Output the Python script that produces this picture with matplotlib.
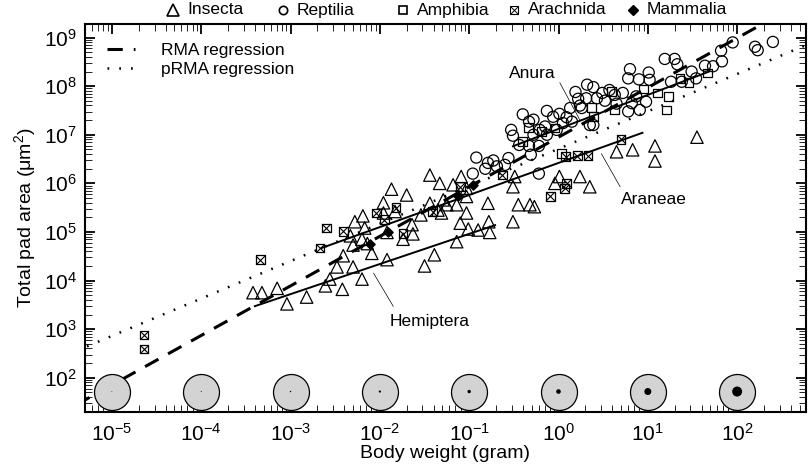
import numpy as np
import matplotlib
matplotlib.use('Agg')
import matplotlib.pyplot as plt
from matplotlib.lines import Line2D
from matplotlib.ticker import LogLocator, LogFormatterMathtext, NullFormatter

plt.rcParams['font.family'] = ['Liberation Sans', 'DejaVu Sans']
plt.rcParams['mathtext.fontset'] = 'custom'
plt.rcParams['mathtext.rm'] = 'Liberation Sans'
plt.rcParams['mathtext.it'] = 'Liberation Sans:italic'

# data, as log10(body weight [g]) and log10(pad area [um^2])
insecta_logm = [-3.42, -3.32, -3.15, -3.04, -2.82, -2.61, -2.56, -2.42, -2.48, -2.41,
                -2.30, -2.20, -2.30, -2.20, -2.09, -2.14, -2.17, -2.28, -2.19, -1.96,
                -1.87, -1.70, -1.83, -1.92, -1.63, -1.74, -1.64, -1.92, -1.50, -1.39,
                -1.54, -1.44, -1.31, -1.25, -1.14, -1.10, -1.03, -1.01, -0.90, -0.79,
                -0.78, -0.77, -1.33, -1.18, -1.44, -1.09, -1.03, -2.33, -1.96, -1.35,
                -1.29, -1.14, -1.03, -0.49, -0.51, -0.45, -0.32, -0.27, -0.51, 0.01,
                -0.04, 0.24, 0.35, 0.65, 0.83, 1.08, 1.08, 1.55]
insecta_loga = [3.75, 3.75, 3.84, 3.52, 3.66, 3.89, 4.03, 3.82, 4.28, 4.51,
                4.28, 4.03, 4.73, 4.85, 4.56, 4.76, 5.08, 5.21, 5.33, 5.60,
                5.88, 5.76, 5.42, 4.99, 4.96, 4.85, 5.15, 4.43, 4.30, 4.53,
                5.35, 5.59, 5.39, 5.56, 4.80, 5.18, 5.39, 5.06, 5.04, 5.59,
                5.21, 4.99, 6.00, 5.97, 6.17, 6.14, 5.90, 4.92, 5.39, 5.45,
                5.66, 5.56, 5.73, 6.14, 5.93, 5.56, 5.56, 5.52, 5.21, 6.14,
                6.00, 6.14, 5.93, 6.65, 6.69, 6.77, 6.46, 6.95]

reptilia_logm = [-0.92, -0.82, -0.73, -0.69, -0.60, -0.56, -0.96, -0.79, -0.53, -0.51,
                 -0.40, -0.33, -0.28, -0.44, -0.33, -0.22, -0.31, -0.28, -0.21, -0.15,
                 -0.13, -0.06, 0.01, 0.09, 0.13, 0.05, -0.02, 0.19, 0.22, 0.32,
                 0.39, 0.31, 0.43, 0.49, 0.52, 0.57, 0.63, 0.65, 0.72, 0.78,
                 0.80, 0.90, 1.01, 1.02, 0.78, 0.91, 0.98, 0.82, 0.87, 1.19,
                 1.30, 1.33, 1.26, 1.38, 1.49, 1.54, 1.64, 1.73, 1.83, 1.82,
                 1.95, 2.20, 2.23, 2.40, 0.26, 0.35, -0.22, -0.13, 0.15, 0.24, 0.39]
reptilia_loga = [6.53, 6.30, 6.47, 6.35, 6.38, 6.52, 6.20, 6.42, 7.10, 6.98,
                 7.42, 7.27, 7.31, 6.79, 6.77, 6.77, 6.59, 7.00, 7.10, 7.17,
                 7.49, 7.37, 7.43, 7.36, 7.55, 7.24, 7.10, 7.88, 7.74, 8.03,
                 7.98, 7.75, 7.75, 7.86, 7.70, 7.92, 7.82, 7.64, 7.86, 8.16,
                 8.35, 8.14, 8.28, 8.13, 7.48, 7.51, 7.68, 7.65, 7.79, 8.56,
                 8.56, 8.45, 8.09, 8.09, 8.30, 8.16, 8.42, 8.41, 8.51, 8.73,
                 8.90, 8.81, 8.74, 8.91, 7.55, 7.20, 6.20, 7.00, 7.27, 7.60, 7.20]

amphibia_logm = [0.37, 0.63, 0.95, 1.11, 1.23, 1.21, 1.46, 1.67, 1.36, 0.03,
                 -0.40, -0.34, -0.19, -0.04, 0.39, 0.59]
amphibia_loga = [7.56, 7.51, 7.94, 7.86, 7.79, 7.51, 8.07, 8.27, 8.16, 6.62,
                 6.86, 7.15, 7.07, 7.14, 7.37, 7.89]

arachnida_logm = [-4.64, -4.64, -3.34, -2.67, -2.60, -2.41, -2.04, -1.95, -1.82, -1.74,
                  -1.41, -1.10, -0.63, -0.09, 0.09, 0.07, 0.08, 0.21, 0.33, 0.70]
arachnida_loga = [2.88, 2.59, 4.43, 4.67, 5.08, 5.01, 5.39, 5.25, 5.50, 4.96,
                  5.42, 5.93, 6.17, 5.73, 6.00, 5.90, 6.55, 6.57, 6.57, 6.91]

mammalia_logm = [-2.11, -1.91, -1.13, -0.96]
mammalia_loga = [4.76, 5.00, 5.73, 5.97]

# regressions: log10(area) = intercept + slope * log10(mass)
rma = (6.95, 1.02)
prma = (6.71, 0.77)
groups = ['Anura', 'Araneae', 'Hemiptera']
group_fit = [(7.12, 0.70), (6.42, 0.66), (5.58, 0.62)]
group_range = [(-0.51, 1.69), (-2.65, 0.94), (-3.40, -0.71)]

# body-size icons along the bottom: decades and dot diameter (px)
icon_logm = [-5, -4, -3, -2, -1, 0, 1, 2]
icon_dot = [0.8, 1.0, 1.4, 2.2, 3.4, 4.6, 7.0, 10.0]

fig = plt.figure(figsize=(8.1, 4.7), dpi=100)
ax = fig.add_axes([85/810, 1-411.7/470, 721/810, 387.7/470])
ax.set_xscale('log')
ax.set_yscale('log')
ax.set_xlim(5e-6, 590)
ax.set_ylim(20, 1.9e9)

xx = np.array([-5.4, 2.9])
ax.plot(10**xx, 10**(rma[0] + rma[1]*xx), color='black', lw=2.2,
        dashes=(5, 3.6), zorder=3, label='RMA regression')
ax.plot(10**xx, 10**(prma[0] + prma[1]*xx), color='black', lw=1.8,
        dashes=(0.7, 4.0), zorder=3, label='pRMA regression')
for (b0, b1), (x0, x1) in zip(group_fit, group_range):
    gx = np.array([x0, x1])
    ax.plot(10**gx, 10**(b0 + b1*gx), color='black', lw=1.4, zorder=3)

mk = dict(facecolors='none', edgecolors='black', linewidths=0.9, zorder=2)
ax.scatter(10**np.array(insecta_logm), 10**np.array(insecta_loga), marker='^', s=80, **mk)
ax.scatter(10**np.array(reptilia_logm), 10**np.array(reptilia_loga), marker='o', s=64, **mk)
ax.scatter(10**np.array(amphibia_logm), 10**np.array(amphibia_loga), marker='s', s=40, **mk)
ax.scatter(10**np.array(arachnida_logm), 10**np.array(arachnida_loga), marker='s', s=40, **mk)
ax.scatter(10**np.array(arachnida_logm), 10**np.array(arachnida_loga), marker='x', s=40,
           color='black', linewidths=0.8, zorder=2)
ax.scatter(10**np.array(mammalia_logm), 10**np.array(mammalia_loga), marker='D', s=22,
           color='black', zorder=2)

# annotations
ax.text(10**-0.29, 10**8.27, 'Anura', fontsize=12.5, ha='center', va='center')
ax.plot([10**0.015, 10**0.24], [10**8.07, 10**7.30], color='black', lw=0.5)
ax.text(10**1.07, 10**5.66, 'Araneae', fontsize=12.5, ha='center', va='center')
ax.plot([10**0.48, 10**0.69], [10**6.61, 10**5.93], color='black', lw=0.5)
ax.text(10**-1.44, 10**3.15, 'Hemiptera', fontsize=12.5, ha='center', va='center')
ax.plot([10**-2.07, 10**-1.85], [10**4.15, 10**3.47], color='black', lw=0.5)

# size icons
icon_y = 52
ax.scatter(10**np.array(icon_logm, dtype=float), [icon_y]*len(icon_logm), s=671,
           facecolor='#d3d3d3', edgecolor='black', linewidths=0.9, zorder=5)
ax.scatter(10**np.array(icon_logm, dtype=float), [icon_y]*len(icon_logm),
           s=(np.array(icon_dot)*0.72)**2, color='black', linewidths=0, zorder=6)

# axes cosmetics
for sp in ax.spines.values():
    sp.set_linewidth(1.5)
ax.xaxis.set_major_locator(LogLocator(base=10, numticks=20))
ax.yaxis.set_major_locator(LogLocator(base=10, numticks=20))
ax.xaxis.set_minor_locator(LogLocator(base=10, subs=np.arange(2, 10), numticks=20))
ax.yaxis.set_minor_locator(LogLocator(base=10, subs=np.arange(2, 10), numticks=20))
ax.xaxis.set_major_formatter(LogFormatterMathtext())
ax.yaxis.set_major_formatter(LogFormatterMathtext())
ax.xaxis.set_minor_formatter(NullFormatter())
ax.yaxis.set_minor_formatter(NullFormatter())
ax.tick_params(which='both', direction='in', top=True, right=True)
ax.tick_params(which='major', length=7, width=1.3, labelsize=15)
ax.tick_params(axis='x', which='major', pad=8)
ax.tick_params(axis='y', which='major', pad=6)
ax.tick_params(which='minor', length=5, width=0.6)

ax.set_xlabel('Body weight (gram)', fontsize=14, labelpad=0)
ax.set_ylabel('Total pad area (\u03bcm$^2$)', fontsize=14, labelpad=4)

ax.legend(loc='upper left', bbox_to_anchor=(107/810, 1-43/470), bbox_transform=fig.transFigure,
          frameon=False, fontsize=12.5, handlelength=1.6, handletextpad=1.5,
          labelspacing=0.2, borderpad=0, borderaxespad=0)

# taxon legend above the plot
taxa = ['Insecta', 'Reptilia', 'Amphibia', 'Arachnida', 'Mammalia']
mark_x = [173, 283, 403, 514, 633]
ly = 1 - 10/470
for name, mx in zip(taxa, mark_x):
    fx = mx/810
    if name == 'Insecta':
        fig.add_artist(Line2D([fx], [ly], marker='^', ms=8, mfc='none', mec='black', mew=1.2, ls=''))
    elif name == 'Reptilia':
        fig.add_artist(Line2D([fx], [ly], marker='o', ms=6, mfc='none', mec='black', mew=1.2, ls=''))
    elif name == 'Amphibia':
        fig.add_artist(Line2D([fx], [ly], marker='s', ms=5.5, mfc='none', mec='black', mew=1.2, ls=''))
    elif name == 'Arachnida':
        fig.add_artist(Line2D([fx], [ly], marker='s', ms=5.5, mfc='none', mec='black', mew=0.8, ls=''))
        fig.add_artist(Line2D([fx], [ly], marker='x', ms=5.5, mec='black', mew=0.7, ls=''))
    else:
        fig.add_artist(Line2D([fx], [ly], marker='D', ms=5, mfc='black', mec='black', ls=''))
    fig.text(fx + 14/810, ly, name, fontsize=12.5, ha='left', va='center')

fig.savefig('out.png', dpi=100)
